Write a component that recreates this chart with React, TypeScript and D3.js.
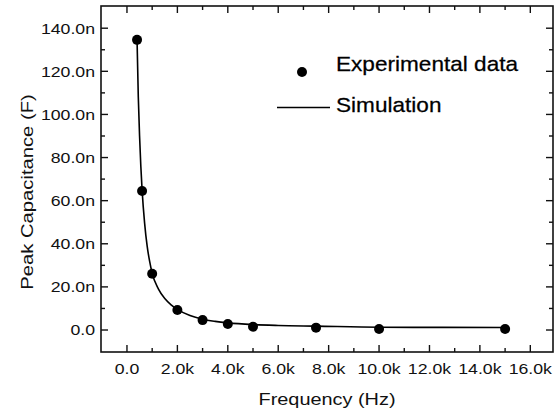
import React, { useEffect, useRef } from 'react';
import * as d3 from 'd3';

// measured points (Hz, F)
const expFreq = [400, 600, 1000, 2000, 3000, 4000, 5000, 7500, 10000, 15000];
const expCap = [134.6e-9, 64.5e-9, 26.1e-9, 9.3e-9, 4.6e-9, 2.8e-9, 1.5e-9, 1.1e-9, 0.5e-9, 0.5e-9];

// simulated curve (Hz, F)
const simFreq = [400, 450, 500, 550, 600, 700, 800, 900, 1000, 1250, 1500, 1750, 2000, 2500, 3000, 3500, 4000, 5000, 6000, 7500, 10000, 12500, 15000];
const simCap = [134.6e-9, 108e-9, 90e-9, 76e-9, 65e-9, 49.6e-9, 39e-9, 31.8e-9, 26.3e-9, 19e-9, 14.6e-9, 11.7e-9, 9.6e-9, 6.7e-9, 5.0e-9, 4.0e-9, 3.3e-9, 2.5e-9, 2.1e-9, 1.8e-9, 1.3e-9, 1.2e-9, 1.15e-9];

const xTicks = [0, 2000, 4000, 6000, 8000, 10000, 12000, 14000, 16000];
const yTicks = [0, 20e-9, 40e-9, 60e-9, 80e-9, 100e-9, 120e-9, 140e-9];

const legendLabels = ['Experimental data', 'Simulation'];

const W = 554;
const H = 416;
const FONT = 'Liberation Sans, Arial, sans-serif';

const App = () => {
  const svgRef = useRef<SVGSVGElement>(null);

  useEffect(() => {
    const svg = d3.select(svgRef.current);
    svg.selectAll('*').remove();

    const left = 101, right = 553, top = 6, bottom = 352;

    const x = d3.scaleLinear().domain([-1030, 16900]).range([left, right]);
    const y = d3.scaleLinear().domain([-10.2e-9, 150.3e-9]).range([bottom, top]);

    const fmtX = (v: number) => (v === 0 ? '0.0' : (v / 1000).toFixed(1) + 'k');
    const fmtY = (v: number) => (v === 0 ? '0.0' : (v * 1e9).toFixed(1) + 'n');

    const g = svg.append('g');

    // minor ticks
    const xMinor = d3.range(0, 17000, 1000).filter((v) => v % 2000 !== 0);
    const yMinor = d3.range(0, 150e-9, 10e-9).filter((v, i) => i % 2 === 1);
    const major = 7, minor = 4;

    const tick = (x1: number, y1: number, x2: number, y2: number) =>
      g.append('line').attr('x1', x1).attr('y1', y1).attr('x2', x2).attr('y2', y2)
        .attr('stroke', '#111').attr('stroke-width', 1.4);

    xTicks.forEach((v) => {
      tick(x(v), bottom, x(v), bottom - major);
      tick(x(v), top, x(v), top + major);
    });
    xMinor.forEach((v) => {
      tick(x(v), bottom, x(v), bottom - minor);
      tick(x(v), top, x(v), top + minor);
    });
    yTicks.forEach((v) => {
      tick(left, y(v), left + major, y(v));
      tick(right, y(v), right - major, y(v));
    });
    yMinor.forEach((v) => {
      tick(left, y(v), left + minor, y(v));
      tick(right, y(v), right - minor, y(v));
    });

    // frame
    g.append('rect')
      .attr('x', left).attr('y', top)
      .attr('width', right - left).attr('height', bottom - top)
      .attr('fill', 'none').attr('stroke', '#111').attr('stroke-width', 1.6);

    // tick labels
    xTicks.forEach((v) => {
      g.append('text')
        .attr('transform', `translate(${x(v)},374) scale(1.18,1)`)
        .attr('text-anchor', 'middle')
        .attr('font-family', FONT).attr('font-size', 15).attr('fill', '#111')
        .text(fmtX(v));
    });
    yTicks.forEach((v) => {
      g.append('text')
        .attr('transform', `translate(95,${y(v) + 5.3}) scale(1.18,1)`)
        .attr('text-anchor', 'end')
        .attr('font-family', FONT).attr('font-size', 15).attr('fill', '#111')
        .text(fmtY(v));
    });

    // axis titles
    g.append('text')
      .attr('transform', `translate(${(left + right) / 2},405) scale(1.17,1)`)
      .attr('text-anchor', 'middle')
      .attr('font-family', FONT).attr('font-size', 17).attr('fill', '#111')
      .text('Frequency (Hz)');
    g.append('text')
      .attr('transform', `translate(33,192) rotate(-90) scale(1.19,1)`)
      .attr('text-anchor', 'middle')
      .attr('font-family', FONT).attr('font-size', 17).attr('fill', '#111')
      .text('Peak Capacitance (F)');

    // simulation curve
    const line = d3.line<number>()
      .x((_, i) => x(simFreq[i]))
      .y((d) => y(d))
      .curve(d3.curveMonotoneX);
    g.append('path')
      .attr('d', line(simCap))
      .attr('fill', 'none').attr('stroke', '#000').attr('stroke-width', 1.6);

    // experimental points
    g.selectAll('circle.pt')
      .data(expCap)
      .enter()
      .append('circle')
      .attr('class', 'pt')
      .attr('cx', (_, i) => x(expFreq[i]))
      .attr('cy', (d) => y(d))
      .attr('r', 5)
      .attr('fill', '#000');

    // legend
    g.append('circle').attr('cx', 302).attr('cy', 72).attr('r', 5).attr('fill', '#000');
    g.append('line')
      .attr('x1', 277).attr('x2', 330).attr('y1', 107.5).attr('y2', 107.5)
      .attr('stroke', '#000').attr('stroke-width', 1.6);
    legendLabels.forEach((t, i) => {
      g.append('text')
        .attr('transform', `translate(336,${i === 0 ? 71 : 112}) scale(1.13,1)`)
        .attr('font-family', FONT).attr('font-size', 20).attr('fill', '#000')
        .attr('stroke', '#000').attr('stroke-width', 0.25)
        .text(t);
    });
  }, []);

  return (
    <div style={{ position: 'absolute', left: 0, top: 0, width: W, height: H, background: '#fff' }}>
      <svg ref={svgRef} width={W} height={H} />
    </div>
  );
};

export default App;
